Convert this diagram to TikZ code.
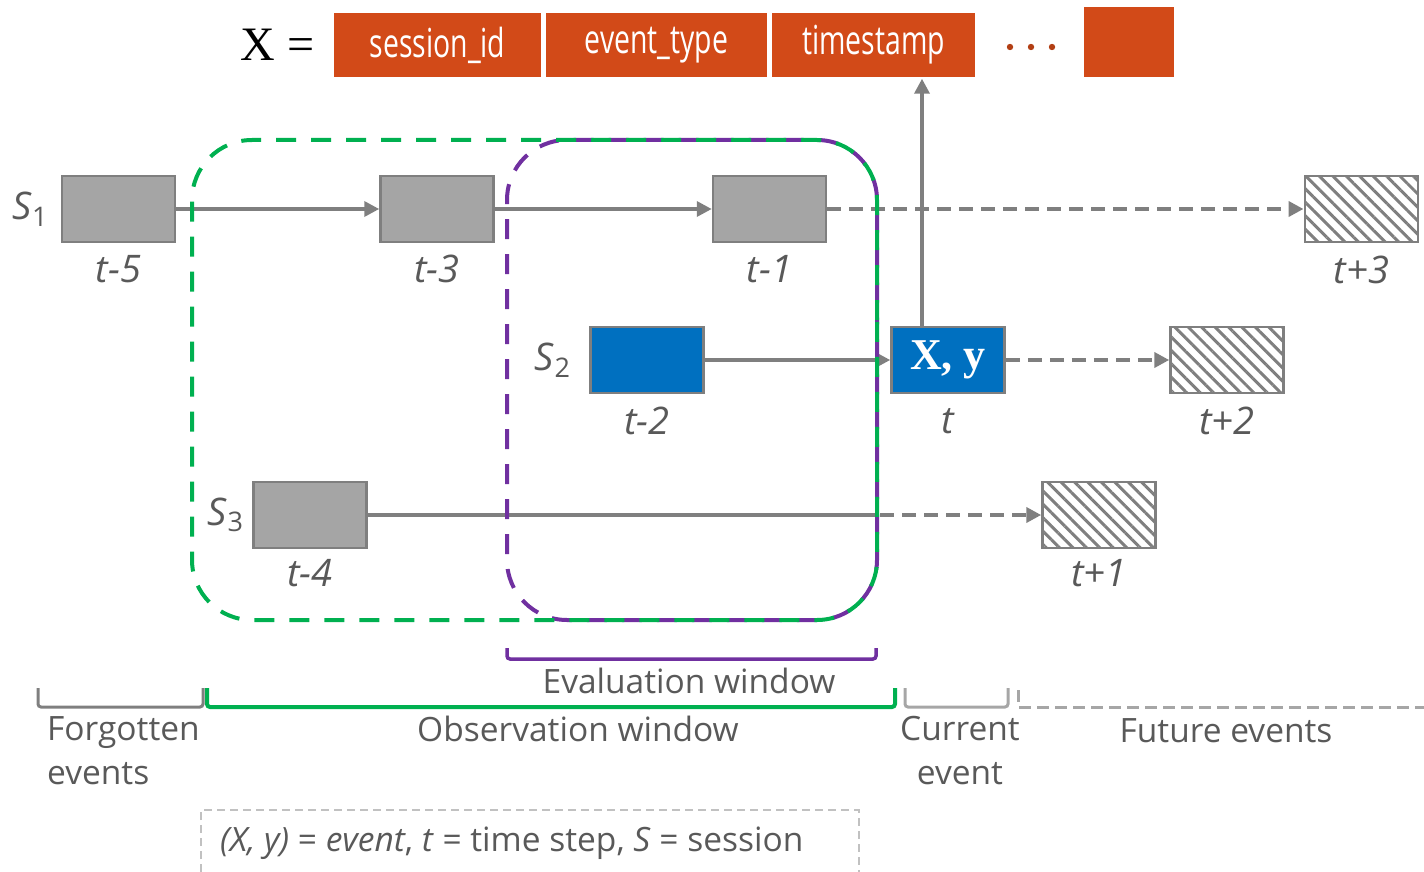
\documentclass[tikz,border=0pt]{standalone}
\usepackage{fontspec}
\setmainfont{Open Sans}
\newfontfamily\narrowfont{Open Sans}[FakeStretch=0.71]
\newfontfamily\timesfont{Liberation Serif}
\usetikzlibrary{arrows.meta,patterns.meta}

\definecolor{fieldred}{HTML}{D24A18}
\definecolor{curblue}{HTML}{0070C0}
\definecolor{boxgray}{HTML}{A5A5A5}
\definecolor{edgegray}{HTML}{7F7F7F}
\definecolor{textgray}{HTML}{595959}
\definecolor{lightgray}{HTML}{A6A6A6}
\definecolor{obsgreen}{HTML}{00B050}
\definecolor{evalpurple}{HTML}{7030A0}

% session symbol with its index
\newcommand{\sess}[1]{\textit{S}\raisebox{-0.32ex}{\fontsize{27}{27}\selectfont #1}}

\begin{document}
\begin{tikzpicture}[x=1pt,y=-1pt,>={Triangle[length=15pt,width=15pt]},
	field/.style={fill=fieldred,draw=white,line width=1.5pt,minimum height=66pt,inner sep=0pt,
		text=white,font=\narrowfont\fontsize{40}{40}\selectfont},
	event/.style={draw=edgegray,line width=2.5pt,fill=boxgray,minimum width=113pt,minimum height=66pt,inner sep=0pt},
	future/.style={draw=edgegray,line width=2.5pt,minimum width=113pt,minimum height=66pt,inner sep=0pt,
		pattern={Lines[angle=-45,distance=9.5pt,line width=3pt]},pattern color=edgegray},
	tlab/.style={text=textgray,inner sep=0pt,font=\itshape\fontsize{38}{38}\selectfont},
	slab/.style={text=textgray,inner sep=0pt,anchor=east,font=\fontsize{38}{38}\selectfont},
	wlab/.style={text=textgray,inner sep=0pt,align=center,font=\fontsize{33.5}{44}\selectfont},
	link/.style={draw=edgegray,line width=3.5pt},
	fut/.style={link,line width=4pt,dash pattern=on 14pt off 8pt},
	frame/.style={line width=4pt,dash pattern=on 20pt off 15pt,rounded corners=60pt},
	bracket/.style={line width=3pt,rounded corners=3pt}]

	\useasboundingbox (0,0) rectangle (1424,872);

	% record fields
	\node[font=\timesfont\fontsize{48}{48}\selectfont,anchor=east] (xeq) at (318,45) {X =};
	\node[field,minimum width=209pt] (sid) at (437.5,45) {session\_id};
	\node[field,minimum width=223pt] (etype) at (656.5,45) {event\_type};
	\node[field,minimum width=205pt] (tstamp) at (873.5,45) {timestamp};
	\node[field,minimum width=92pt,minimum height=72pt] (more) at (1129,42) {};
	\foreach \x in {1010,1031,1052}
		\fill[fieldred!85!black] (\x,47) circle (3.2);

	% events of the three sessions
	\node[event] (e5) at (118.5,209) {};
	\node[event] (e3) at (437,209) {};
	\node[event] (e1) at (769.5,209) {};
	\node[future] (f3) at (1361.5,209) {};
	\node[event,fill=curblue] (e2) at (647,360) {};
	\node[event,fill=curblue,text=white,font=\timesfont\bfseries\fontsize{44}{44}\selectfont] (cur) at (948,360) {X, y};
	\node[future] (f2) at (1227,360) {};
	\node[event] (e4) at (310,515) {};
	\node[future] (f1) at (1099,515) {};

	\node[slab] (s1) at ([xshift=-13pt]e5.west) {\sess{1}};
	\node[slab] (s2) at ([xshift=-19pt]e2.west) {\sess{2}};
	\node[slab] (s3) at ([xshift=-9pt]e4.west) {\sess{3}};

	\node[tlab] (l5) at ([yshift=-26pt]e5.south) {t-5};
	\node[tlab] (l3) at ([yshift=-26pt]e3.south) {t-3};
	\node[tlab] (l1) at ([yshift=-26pt]e1.south) {t-1};
	\node[tlab] (lf3) at ([yshift=-26pt]f3.south) {t+3};
	\node[tlab] (l2) at ([yshift=-27pt]e2.south) {t-2};
	\node[tlab] (lt) at ([yshift=-27pt]cur.south) {t};
	\node[tlab] (lf2) at ([yshift=-27pt]f2.south) {t+2};
	\node[tlab] (l4) at ([yshift=-24pt]e4.south) {t-4};
	\node[tlab] (lf1) at ([yshift=-24pt]f1.south) {t+1};

	% links between events
	\coordinate (cut) at (877,515);
	\draw[link,->] (e5) -- (e3);
	\draw[link,->] (e3) -- (e1);
	\draw[link,->] (e2) -- (cur);
	\draw[link] (e4) -- (cut);
	\draw[fut,->] (e1) -- (f3);
	\draw[fut,->] (cur) -- (f2);
	\draw[fut,->] ([xshift=3pt]cut) -- (f1);
	\draw[link,->] ([xshift=-26pt]cur.north) -- ([xshift=-26pt]cur.north |- tstamp.south);

	% evaluation window below, observation window on top
	\draw[frame,evalpurple,dash phase=17.5pt]
		(877,380) -- (877,140) -- (507,140) -- (507,620) -- (877,620) -- cycle;
	\draw[frame,obsgreen]
		(877,380) -- (877,140) -- (192,140) -- (192,620) -- (877,620) -- cycle;

	% brackets along the time axis
	\draw[bracket,evalpurple,line width=3.5pt] (507,648) |- (876,659) -- (876,648);
	\draw[bracket,edgegray] (38,688) |- (203,707) -- (203,688);
	\draw[bracket,obsgreen,line width=4pt] (207,688) |- (895,707) -- (895,688);
	\draw[bracket,lightgray] (905,688) |- (1008,707) -- (1008,688);
	\draw[lightgray,line width=3pt,dash pattern=on 12pt off 6pt] (1018,690) |- (1424,707);

	\node[wlab] (evallab) at (689,681) {Evaluation window};
	\node[wlab] (obslab) at (578,729) {Observation window};
	\node[wlab,align=left,anchor=west] (forglab) at (47,751) {Forgotten\\events};
	\node[wlab] (curlab) at (960,751) {Current\\event};
	\node[wlab] (futlab) at (1226,731) {Future events};

	% legend
	\draw[lightgray!70,line width=1.5pt,dash pattern=on 8pt off 5pt] (201,872) |- (859,810) -- (859,872);
	\node[wlab,anchor=west] (legend) at (220,843)
		{\textit{(X, y)} = \textit{event}, \textit{t} = time step, \textit{S} = session};
\end{tikzpicture}
\end{document}
